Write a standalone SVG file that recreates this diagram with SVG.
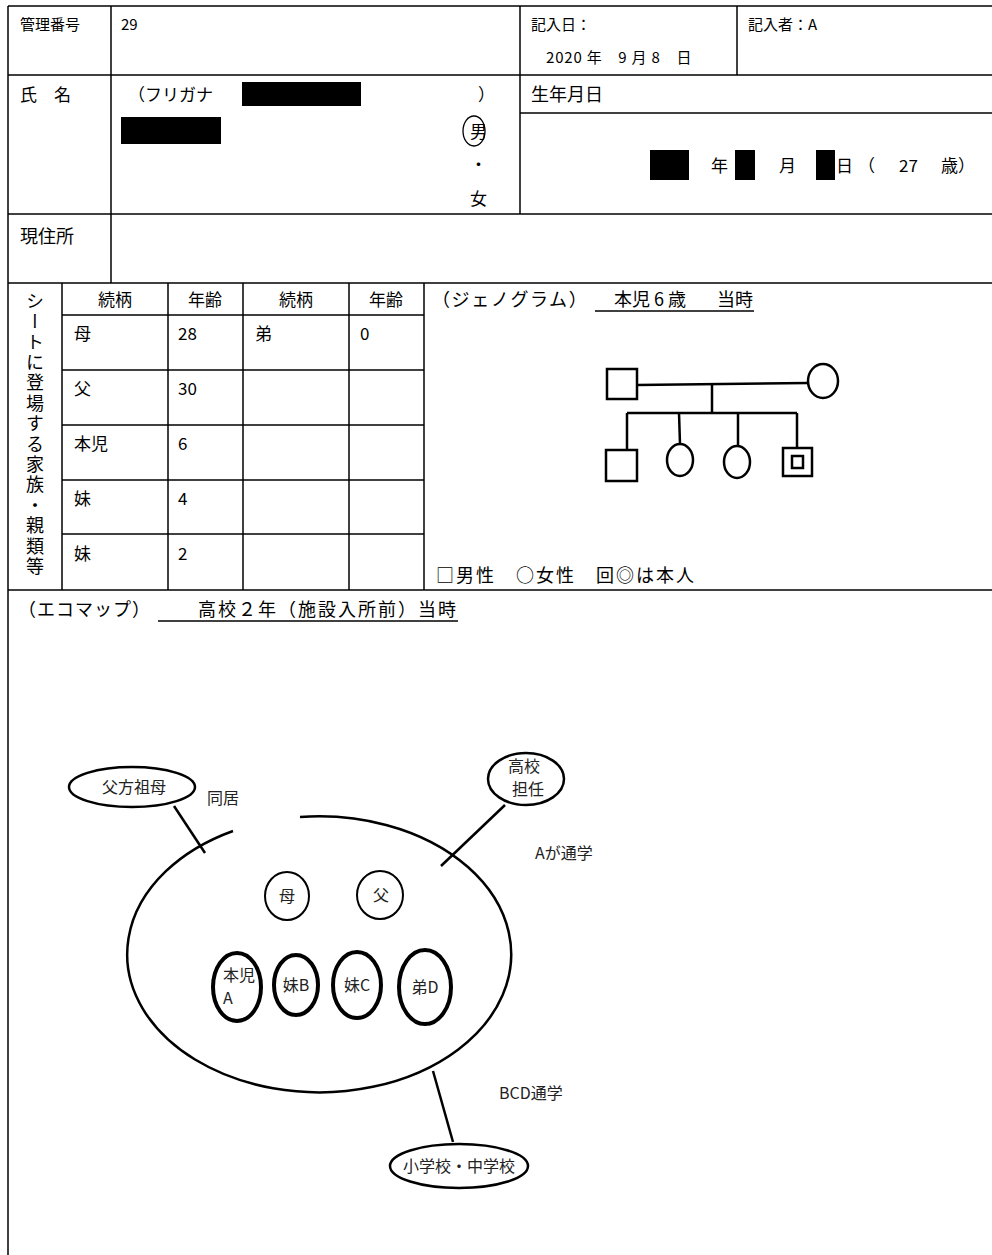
<svg xmlns="http://www.w3.org/2000/svg" width="992" height="1255" viewBox="0 0 992 1255">
<style>
.f{font-family:"Noto Sans CJK JP","Liberation Sans",sans-serif;fill:#000}
.s15{font-size:15px}
.s17{font-size:17px}
.s18{font-size:18px}
.e{font-family:"Noto Sans CJK JP","Liberation Sans",sans-serif;font-size:16px;fill:#222}
.grid line{stroke:#000;stroke-width:1.5}
.gen{fill:#fff;stroke:#000;stroke-width:2.5}
.gl{stroke:#000;stroke-width:2.5;fill:none}
.node{fill:#fff;stroke:#000;stroke-width:2.5}
.thick{fill:#fff;stroke:#000;stroke-width:4}
.con line{stroke:#000;stroke-width:2.5}
.ul{stroke:#000;stroke-width:1.3}
</style>
<rect width="992" height="1255" fill="#fff"/>
<g id="form-grid" class="grid">
<line x1="8" y1="6" x2="992" y2="6"/>
<line x1="8" y1="75" x2="992" y2="75"/>
<line x1="520" y1="113" x2="992" y2="113"/>
<line x1="8" y1="214" x2="992" y2="214"/>
<line x1="8" y1="283" x2="992" y2="283"/>
<line x1="8" y1="590" x2="992" y2="590"/>
<line x1="62" y1="315" x2="424" y2="315"/>
<line x1="62" y1="370" x2="424" y2="370"/>
<line x1="62" y1="425" x2="424" y2="425"/>
<line x1="62" y1="480" x2="424" y2="480"/>
<line x1="62" y1="534" x2="424" y2="534"/>
<line x1="8" y1="6" x2="8" y2="1255"/>
<line x1="111" y1="6" x2="111" y2="283"/>
<line x1="520" y1="6" x2="520" y2="214"/>
<line x1="737" y1="6" x2="737" y2="75"/>
<line x1="62" y1="283" x2="62" y2="590"/>
<line x1="168" y1="283" x2="168" y2="590"/>
<line x1="243" y1="283" x2="243" y2="590"/>
<line x1="349" y1="283" x2="349" y2="590"/>
<line x1="424" y1="283" x2="424" y2="590"/>
</g>
<g id="header">
<text class="f s15" x="20" y="30">管理番号</text>
<text class="f s15" x="121" y="30">29</text>
<text class="f s15" x="531" y="30">記入日：</text>
<text class="f s15" x="546" y="63" letter-spacing="0.8">2020 年　9 月 8　日</text>
<text class="f s15" x="748" y="30">記入者：A</text>
</g>
<g id="name-row">
<text class="f s17" x="20" y="101">氏　名</text>
<text class="f s17" x="128" y="101">（フリガナ</text>
<rect x="242" y="82" width="119" height="24" fill="#000"/>
<text class="f s17" x="478" y="101">）</text>
<rect x="121" y="117" width="100" height="27" fill="#000"/>
<text class="f s17" x="470" y="138">男</text>
<ellipse cx="474" cy="131" rx="11" ry="15" fill="none" stroke="#000" stroke-width="1.3"/>
<text class="f s17" x="470" y="171">・</text>
<text class="f s17" x="470" y="205">女</text>
<text class="f s18" x="531" y="101">生年月日</text>
<rect x="650" y="150" width="39" height="30" fill="#000"/>
<text class="f s17" x="711" y="172">年</text>
<rect x="735" y="150" width="20" height="30" fill="#000"/>
<text class="f s17" x="779" y="172">月</text>
<rect x="816" y="150" width="19" height="30" fill="#000"/>
<text class="f s17" x="836" y="172">日</text>
<text class="f s17" x="858" y="172">（</text>
<text class="f s17" x="899" y="172">27</text>
<text class="f s17" x="941" y="172">歳）</text>
</g>
<g id="address-row">
<text class="f s18" x="20" y="243">現住所</text>
</g>
<g id="family-table">
<text class="f s18" x="35" y="292" style="writing-mode:vertical-rl;text-orientation:upright;letter-spacing:2.4px">シートに登場する家族・親類等</text>
<text class="f s17" x="115" y="306" text-anchor="middle">続柄</text>
<text class="f s17" x="205" y="306" text-anchor="middle">年齢</text>
<text class="f s17" x="296" y="306" text-anchor="middle">続柄</text>
<text class="f s17" x="386" y="306" text-anchor="middle">年齢</text>
<text class="f s17" x="74" y="340">母</text>
<text class="f s17" x="178" y="340">28</text>
<text class="f s17" x="255" y="340">弟</text>
<text class="f s17" x="360" y="340">0</text>
<text class="f s17" x="74" y="395">父</text>
<text class="f s17" x="178" y="395">30</text>
<text class="f s17" x="74" y="450">本児</text>
<text class="f s17" x="178" y="450">6</text>
<text class="f s17" x="74" y="505">妹</text>
<text class="f s17" x="178" y="505">4</text>
<text class="f s17" x="74" y="560">妹</text>
<text class="f s17" x="178" y="560">2</text>
</g>
<g id="genogram">
<text class="f s18" x="432" y="306" letter-spacing="1.6">（ジェノグラム）</text>
<text class="f s18" x="614" y="306">本児 6 歳</text>
<text class="f s18" x="717" y="306">当時</text>
<line class="ul" x1="595" y1="311" x2="754" y2="311"/>
<line class="gl" x1="637" y1="385" x2="808" y2="383"/>
<line class="gl" x1="712" y1="384" x2="712" y2="413"/>
<line class="gl" x1="627" y1="413" x2="797" y2="413"/>
<line class="gl" x1="627" y1="413" x2="627" y2="450"/>
<line class="gl" x1="679" y1="413" x2="680" y2="444"/>
<line class="gl" x1="738" y1="413" x2="738" y2="446"/>
<line class="gl" x1="797" y1="413" x2="797" y2="448"/>
<rect class="gen" x="607" y="369" width="30" height="30"/>
<ellipse class="gen" cx="823" cy="381" rx="15" ry="17"/>
<rect class="gen" x="606" y="450" width="31" height="31"/>
<ellipse class="gen" cx="680" cy="460" rx="13" ry="16"/>
<ellipse class="gen" cx="737" cy="462" rx="13" ry="16"/>
<rect class="gen" x="783" y="448" width="29" height="28"/>
<rect class="gen" x="792" y="456" width="11" height="12"/>
<text class="f s18" x="436" y="582" letter-spacing="2">□男性　○女性　回◎は本人</text>
</g>
<g id="ecomap-title">
<text class="f s18" x="18" y="616" letter-spacing="1">（エコマップ）</text>
<text class="f s18" x="198" y="616" letter-spacing="2">高校２年（施設入所前）当時</text>
<line class="ul" x1="158" y1="621" x2="458" y2="621"/>
</g>
<g id="connectors" class="con">
<line x1="174" y1="806" x2="205" y2="853"/>
<line x1="505" y1="805" x2="441" y2="866"/>
<line x1="433" y1="1071" x2="453" y2="1142"/>
</g>
<g id="household">
<path d="M300,817 A192,138 0 1 1 233,831" fill="none" stroke="#000" stroke-width="2.5"/>
</g>
<g id="n-grandmother">
<ellipse class="node" cx="132" cy="787" rx="63" ry="20"/>
<text class="e" x="134" y="793" text-anchor="middle">父方祖母</text>
</g>
<text class="e" x="207" y="804" font-size="17">同居</text>
<g id="n-teacher">
<ellipse class="node" cx="526" cy="779" rx="38" ry="26"/>
<text class="e" text-anchor="middle" font-size="14"><tspan x="524" y="772">高校</tspan><tspan x="528" y="795">担任</tspan></text>
</g>
<text class="e" x="535" y="859">Aが通学</text>
<g id="n-mother">
<ellipse cx="287" cy="896" rx="22" ry="24" fill="#fff" stroke="#000" stroke-width="2"/>
<text class="e" x="287" y="902" text-anchor="middle">母</text>
</g>
<g id="n-father">
<ellipse cx="380" cy="895" rx="23" ry="24" fill="#fff" stroke="#000" stroke-width="2"/>
<text class="e" x="381" y="901" text-anchor="middle">父</text>
</g>
<g id="n-honji">
<ellipse class="thick" cx="237" cy="987" rx="24" ry="34"/>
<text class="e" font-size="14"><tspan x="223" y="981">本児</tspan><tspan x="223" y="1004">A</tspan></text>
</g>
<g id="n-imoutoB">
<ellipse class="thick" cx="296" cy="985" rx="22" ry="30"/>
<text class="e" x="296" y="991" text-anchor="middle">妹B</text>
</g>
<g id="n-imoutoC">
<ellipse class="thick" cx="357" cy="985" rx="24" ry="33"/>
<text class="e" x="357" y="991" text-anchor="middle">妹C</text>
</g>
<g id="n-otoutoD">
<ellipse class="thick" cx="425" cy="987" rx="26" ry="37"/>
<text class="e" x="425" y="993" text-anchor="middle">弟D</text>
</g>
<text class="e" x="499" y="1099">BCD通学</text>
<g id="n-school">
<ellipse class="node" cx="459" cy="1166" rx="69" ry="22"/>
<text class="e" x="459" y="1172" text-anchor="middle">小学校・中学校</text>
</g>
</svg>
